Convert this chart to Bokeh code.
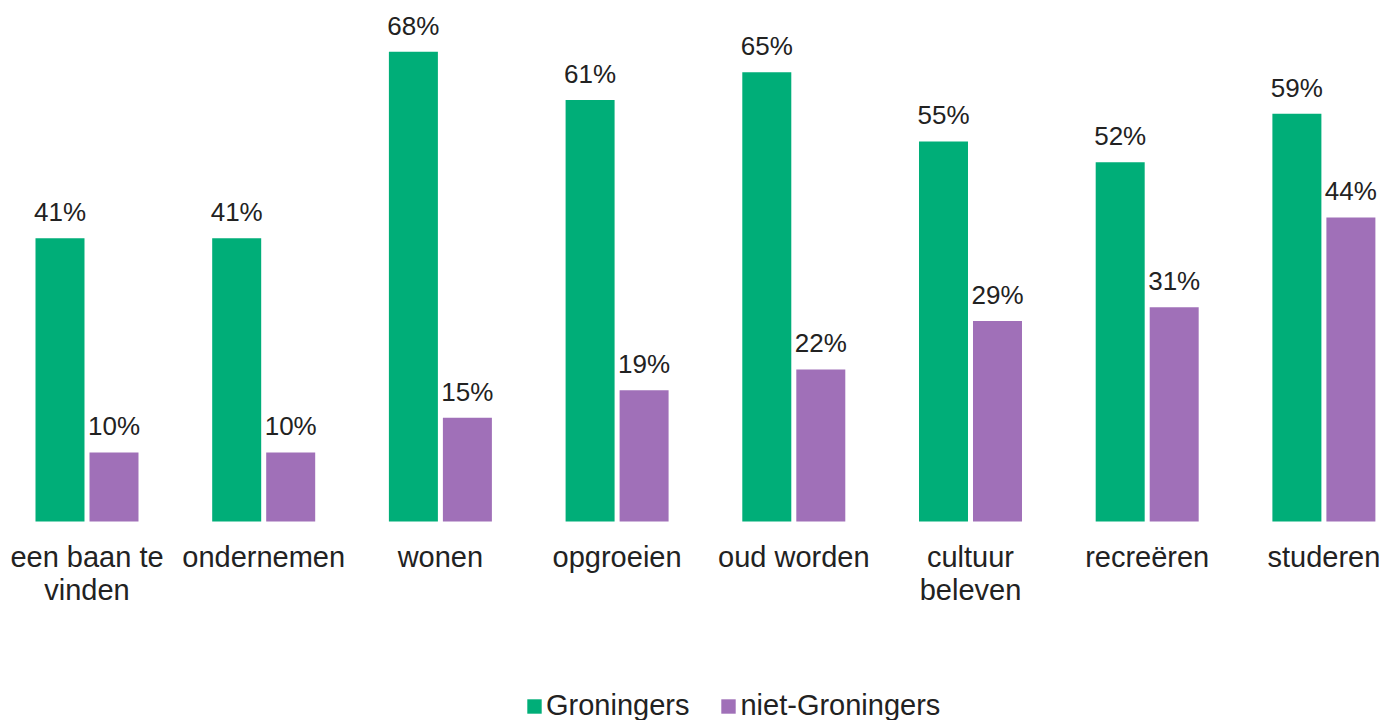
from bokeh.plotting import figure
from bokeh.models import (ColumnDataSource, Range1d, LinearAxis, FixedTicker,
                          Legend, LegendItem)
from bokeh.transform import dodge
from bokeh.core.properties import value
from bokeh.embed import file_html
from bokeh.resources import INLINE

categories = ["een baan te\nvinden", "ondernemen", "wonen", "opgroeien",
              "oud worden", "cultuur\nbeleven", "recreëren", "studeren"]
groningers = [41, 41, 68, 61, 65, 55, 52, 59]
niet_groningers = [10, 10, 15, 19, 22, 29, 31, 44]
series_names = ["Groningers", "niet-Groningers"]

GREEN = "#00AE78"
PURPLE = "#A070B8"
TEXT = "#222222"
FONT = "Liberation Sans"

xs = list(range(len(categories)))
src = ColumnDataSource(dict(
    x=xs,
    g=groningers,
    n=niet_groningers,
    gl=[f"{v}%" for v in groningers],
    nl=[f"{v}%" for v in niet_groningers],
))

W, H = 1389, 720
p = figure(width=W, height=H, output_backend="svg", toolbar_location=None,
           x_axis_location=None, y_axis_location=None, min_border=0,
           x_range=Range1d(-0.4895, 7.3713), y_range=Range1d(-28.80, 75.40))
p.outline_line_color = None
p.grid.visible = False
p.background_fill_color = "white"
p.border_fill_color = "white"

off = 0.1528
bw = 0.2773
rg = p.vbar(x=dodge("x", -off), top="g", bottom=0, width=bw, source=src,
            fill_color=GREEN, line_color=None)
rn = p.vbar(x=dodge("x", off), top="n", bottom=0, width=bw, source=src,
            fill_color=PURPLE, line_color=None)

for col, lab, o in (("g", "gl", -off), ("n", "nl", off)):
    p.text(x=dodge("x", o), y=col, text=lab, source=src,
           text_align="center", text_baseline="alphabetic", y_offset=-26,
           text_font=value(FONT), text_font_size="26px", text_color=TEXT)

ax = LinearAxis(fixed_location=0)
ax.ticker = FixedTicker(ticks=xs)
ax.major_label_overrides = {i: c for i, c in enumerate(categories)}
ax.axis_line_color = None
ax.major_tick_line_color = None
ax.minor_tick_line_color = None
ax.major_tick_out = 0
ax.major_tick_in = 0
ax.major_label_standoff = 20
ax.major_label_text_font = FONT
ax.major_label_text_font_size = "29px"
ax.major_label_text_line_height = 1.02
ax.major_label_text_color = TEXT
p.add_layout(ax, "below")

legend = Legend(items=[LegendItem(label=series_names[0], renderers=[rg]),
                       LegendItem(label=series_names[1], renderers=[rn])],
                orientation="horizontal", location=(525, -2),
                padding=0, margin=0, spacing=30, label_standoff=3,
                glyph_width=18, glyph_height=18,
                label_text_font=FONT, label_text_font_size="29px",
                label_text_color=TEXT, border_line_color=None,
                background_fill_alpha=0)
p.add_layout(legend, "center")

open("out.html", "w").write(file_html(p, INLINE))
